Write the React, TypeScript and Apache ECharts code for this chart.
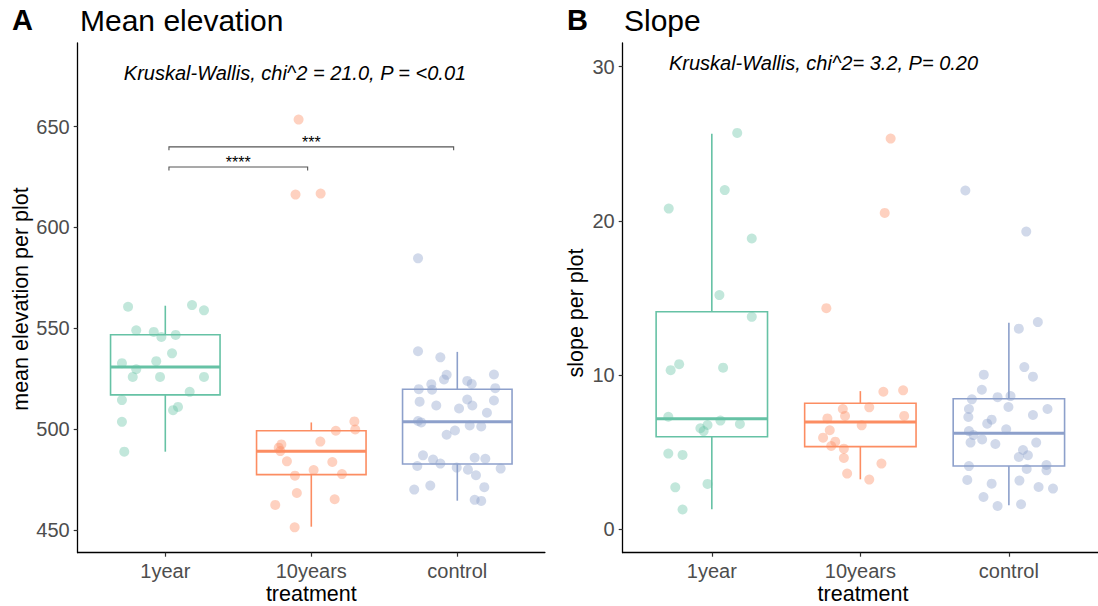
import React, { useEffect, useRef } from "react";
import * as echarts from "echarts";

const CATEGORIES = ["1year", "10years", "control"];
const COLORS = ["#66C2A5", "#FC8D62", "#8DA0CB"];
const BOX_WIDTH = 0.75;
const FONT = '"Liberation Sans", Arial, Helvetica, sans-serif';

// Panel A: mean elevation — boxplot stats [min, q1, median, q3, max]
const ELEV_STATS = [
  [488.8, 517.0, 530.8, 546.8, 561.2],
  [451.6, 477.4, 489.0, 499.2, 503.3],
  [464.5, 482.7, 503.6, 519.8, 538.3],
];
// jittered points: [horizontal jitter offset, value]
const ELEV_1YEAR = [
  [-0.255, 560.7], [0.183, 561.5], [0.265, 558.9], [-0.199, 549.0], [-0.079, 548.2],
  [-0.027, 545.7], [0.071, 546.7], [0.046, 537.6], [-0.297, 532.7], [-0.062, 533.7],
  [-0.199, 529.7], [-0.223, 525.9], [-0.036, 525.9], [0.265, 525.9], [0.167, 518.5],
  [-0.297, 514.4], [0.087, 511.0], [0.053, 509.4], [-0.297, 503.6], [-0.281, 488.8],
];
const ELEV_10YEARS = [
  [-0.087, 653.5], [-0.108, 616.3], [0.064, 616.8], [0.295, 503.8], [0.301, 499.8],
  [0.168, 499.2], [0.062, 493.8], [-0.205, 492.4], [-0.223, 490.8], [-0.212, 489.1],
  [-0.167, 484.0], [0.144, 483.7], [0.016, 479.7], [-0.112, 476.9], [0.21, 477.7],
  [-0.099, 468.3], [0.16, 465.2], [-0.247, 462.4], [-0.114, 451.3],
];
const ELEV_CONTROL = [
  [-0.269, 584.7], [-0.269, 538.6], [-0.116, 535.6], [-0.073, 526.9], [-0.091, 524.6],
  [-0.178, 522.3], [-0.173, 519.5], [0.068, 523.9], [0.099, 522.4], [0.251, 527.1],
  [0.26, 520.3], [-0.264, 519.8], [-0.258, 513.6], [-0.144, 511.7], [0.012, 510.2],
  [0.068, 514.7], [0.103, 511.7], [0.251, 514.2], [0.203, 508.1], [-0.269, 504.0],
  [-0.247, 503.3], [-0.073, 497.2], [-0.016, 499.3], [0.085, 501.8], [0.164, 501.3],
  [-0.235, 487.0], [-0.166, 484.9], [-0.274, 481.7], [-0.116, 482.9], [-0.004, 480.9],
  [0.073, 479.9], [0.119, 485.8], [0.192, 485.3], [0.297, 480.4], [0.128, 477.1],
  [-0.185, 472.0], [-0.295, 470.0], [0.185, 471.2], [0.119, 464.9], [0.164, 464.4],
];

// Panel B: slope
const SLOPE_STATS = [
  [1.3, 6.0, 7.17, 14.11, 25.66],
  [3.24, 5.36, 6.95, 8.17, 8.96],
  [1.56, 4.1, 6.22, 8.47, 13.4],
];
const SLOPE_1YEAR = [
  [0.171, 25.71], [0.087, 22.0], [-0.29, 20.8], [0.269, 18.86], [0.051, 15.19],
  [0.269, 13.78], [-0.22, 10.71], [-0.277, 10.32], [0.076, 10.48], [-0.293, 7.3],
  [0.058, 7.05], [0.189, 6.83], [-0.029, 6.76], [-0.077, 6.55], [-0.055, 6.37],
  [-0.293, 4.91], [-0.197, 4.82], [-0.246, 2.72], [-0.029, 2.94], [-0.197, 1.28],
];
const SLOPE_10YEARS = [
  [0.204, 25.34], [0.164, 20.52], [-0.229, 14.34], [0.155, 8.92], [0.288, 9.01],
  [-0.118, 7.8], [0.06, 7.91], [-0.103, 7.35], [-0.222, 7.19], [0.295, 7.35],
  [0.009, 6.74], [-0.206, 6.42], [-0.251, 5.94], [-0.169, 5.68], [-0.196, 5.4],
  [-0.111, 5.23], [-0.111, 4.62], [0.142, 4.26], [-0.089, 3.61], [0.06, 3.22],
];
const SLOPE_CONTROL = [
  [-0.293, 21.97], [0.117, 19.31], [0.195, 13.44], [0.067, 13.01], [0.104, 10.52],
  [0.162, 9.9], [-0.169, 10.03], [-0.182, 9.05], [-0.249, 8.43], [-0.076, 8.57],
  [0.011, 8.64], [-0.269, 7.8], [-0.003, 7.93], [0.26, 7.8], [-0.273, 7.28],
  [-0.116, 7.11], [-0.146, 6.85], [0.162, 7.41], [-0.269, 6.37], [-0.018, 6.48],
  [-0.238, 6.11], [-0.258, 5.62], [-0.18, 5.83], [-0.091, 5.53], [0.184, 5.62],
  [0.095, 5.14], [0.128, 4.8], [0.067, 4.69], [-0.269, 4.1], [0.253, 4.17],
  [0.12, 3.91], [0.253, 3.82], [-0.28, 3.2], [-0.116, 2.96], [0.071, 3.16],
  [0.2, 2.74], [0.297, 2.64], [-0.171, 2.09], [-0.076, 1.51], [0.082, 1.62],
];

const ELEV_TICKS = [450, 500, 550, 600, 650];
const SLOPE_TICKS = [0, 10, 20, 30];
const X_TICKS = [1, 2, 3];

const BRACKETS = [
  { from: 1, to: 2, y: 630, label: "****" },
  { from: 1, to: 3, y: 640, label: "***" },
];

function xAxis(gridIndex: number) {
  return {
    type: "value",
    gridIndex,
    min: 0.4,
    max: 3.6,
    splitLine: { show: false },
    axisLine: { show: true, onZero: false, lineStyle: { color: "#000", width: 1.3 } },
    axisTick: { show: true, customValues: X_TICKS, length: 4, lineStyle: { color: "#333", width: 1.2 } },
    axisLabel: {
      customValues: X_TICKS,
      formatter: (v: number) => CATEGORIES[Math.round(v) - 1] ?? "",
      fontSize: 20,
      color: "#4D4D4D",
      fontFamily: FONT,
      margin: 8,
    },
  };
}

function yAxis(gridIndex: number, min: number, max: number, ticks: number[]) {
  return {
    type: "value",
    gridIndex,
    min,
    max,
    splitLine: { show: false },
    axisLine: { show: true, onZero: false, lineStyle: { color: "#000", width: 1.3 } },
    axisTick: { show: true, customValues: ticks, length: 4, lineStyle: { color: "#333", width: 1.2 } },
    axisLabel: { customValues: ticks, fontSize: 20, color: "#4D4D4D", fontFamily: FONT, margin: 8 },
  };
}

function boxSeries(idx: number, stats: number[][]) {
  return {
    type: "custom",
    xAxisIndex: idx,
    yAxisIndex: idx,
    z: 2,
    data: stats.map((s, i) => [i + 1, ...s]),
    encode: { x: 0, y: [1, 2, 3, 4, 5] },
    renderItem: (params: any, api: any) => {
      const x = api.value(0);
      const lo = api.value(1), q1 = api.value(2), med = api.value(3), q3 = api.value(4), hi = api.value(5);
      const hw = BOX_WIDTH / 2;
      const c = COLORS[params.dataIndex];
      const tl = api.coord([x - hw, q3]);
      const br = api.coord([x + hw, q1]);
      const m1 = api.coord([x - hw, med]);
      const m2 = api.coord([x + hw, med]);
      const top = api.coord([x, hi]);
      const q3c = api.coord([x, q3]);
      const q1c = api.coord([x, q1]);
      const bot = api.coord([x, lo]);
      const ls = { stroke: c, lineWidth: 1.6 };
      return {
        type: "group",
        children: [
          { type: "line", shape: { x1: q3c[0], y1: q3c[1], x2: top[0], y2: top[1] }, style: ls },
          { type: "line", shape: { x1: q1c[0], y1: q1c[1], x2: bot[0], y2: bot[1] }, style: ls },
          {
            type: "rect",
            shape: { x: tl[0], y: tl[1], width: br[0] - tl[0], height: br[1] - tl[1] },
            style: { fill: "transparent", stroke: c, lineWidth: 1.6 },
          },
          { type: "line", shape: { x1: m1[0], y1: m1[1], x2: m2[0], y2: m2[1] }, style: { stroke: c, lineWidth: 3 } },
        ],
      };
    },
  };
}

function pointSeries(idx: number, groups: number[][][]) {
  return groups.map((pts, g) => ({
    type: "scatter",
    xAxisIndex: idx,
    yAxisIndex: idx,
    z: 3,
    symbolSize: 10,
    itemStyle: { color: COLORS[g], opacity: 0.4 },
    data: pts.map(([dx, v]) => [g + 1 + dx, v]),
  }));
}

function bracketSeries() {
  return {
    type: "custom",
    xAxisIndex: 0,
    yAxisIndex: 0,
    z: 4,
    data: BRACKETS.map((b) => [b.from, b.to, b.y]),
    encode: { x: [0, 1], y: 2 },
    renderItem: (params: any, api: any) => {
      const b = BRACKETS[params.dataIndex];
      const p1 = api.coord([b.from + 0.025, b.y]);
      const p2 = api.coord([b.to - 0.025, b.y]);
      const mid = api.coord([(b.from + b.to) / 2, b.y]);
      return {
        type: "group",
        children: [
          {
            type: "polyline",
            shape: { points: [[p1[0], p1[1] + 3.5], [p1[0], p1[1]], [p2[0], p2[1]], [p2[0], p2[1] + 3.5]] },
            style: { stroke: "#555", lineWidth: 1.1, fill: "none" },
          },
          {
            type: "text",
            x: mid[0],
            y: mid[1] - 4,
            style: { text: b.label, fill: "#000", fontSize: 16, fontFamily: FONT, textAlign: "center", textVerticalAlign: "middle" },
          },
        ],
      };
    },
  };
}

function txt(x: number, y: number, text: string, font: string, opts: any = {}) {
  return {
    type: "text",
    x,
    y,
    rotation: opts.rotation ?? 0,
    style: {
      text,
      font,
      fill: opts.fill ?? "#000",
      textAlign: opts.align ?? "left",
      textVerticalAlign: "middle",
    },
  };
}

export default function App() {
  const ref = useRef<HTMLDivElement>(null);
  useEffect(() => {
    if (!ref.current) return;
    document.body.style.margin = "0";
    const chart = echarts.init(ref.current, null, { renderer: "svg" });
    const option: any = {
      animation: false,
      backgroundColor: "#fff",
      grid: [
        { left: 77.7, top: 43, width: 467.2, height: 509.7 },
        { left: 622.7, top: 43, width: 480.6, height: 509.7 },
      ],
      xAxis: [xAxis(0), xAxis(1)],
      yAxis: [yAxis(0, 438.7, 691.5, ELEV_TICKS), yAxis(1, -1.52, 31.54, SLOPE_TICKS)],
      series: [
        boxSeries(0, ELEV_STATS),
        ...pointSeries(0, [ELEV_1YEAR, ELEV_10YEARS, ELEV_CONTROL]),
        bracketSeries(),
        boxSeries(1, SLOPE_STATS),
        ...pointSeries(1, [SLOPE_1YEAR, SLOPE_10YEARS, SLOPE_CONTROL]),
      ],
      graphic: [
        txt(12, 20, "A", `bold 29px ${FONT}`),
        txt(80, 20, "Mean elevation", `30px ${FONT}`),
        txt(567, 20, "B", `bold 29px ${FONT}`),
        txt(624, 20, "Slope", `30px ${FONT}`),
        txt(295, 73, "Kruskal-Wallis, chi^2 = 21.0, P = <0.01", `italic 20px ${FONT}`, { align: "center" }),
        txt(823.5, 63, "Kruskal-Wallis, chi^2= 3.2, P= 0.20", `italic 20px ${FONT}`, { align: "center" }),
        txt(21, 299, "mean elevation per plot", `21.5px ${FONT}`, { align: "center", rotation: Math.PI / 2 }),
        txt(576, 313, "slope per plot", `21.5px ${FONT}`, { align: "center", rotation: Math.PI / 2 }),
        txt(311.3, 594, "treatment", `21.5px ${FONT}`, { align: "center" }),
        txt(863, 594, "treatment", `21.5px ${FONT}`, { align: "center" }),
      ],
    };
    chart.setOption(option);
    return () => chart.dispose();
  }, []);
  return <div ref={ref} style={{ width: 1098, height: 606 }} />;
}
